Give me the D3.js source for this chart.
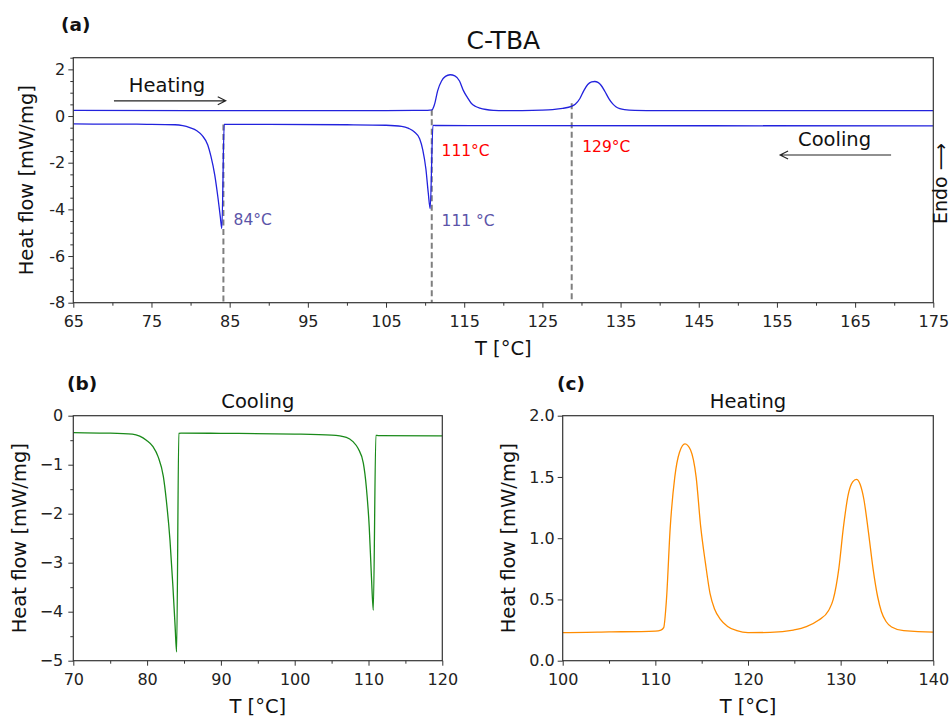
<!DOCTYPE html>
<html>
<head>
<meta charset="utf-8">
<script src="https://cdn.jsdelivr.net/npm/d3@7"></script>
<style>
body { margin: 0; background: #fff; }
text { font-family: "DejaVu Sans", sans-serif; }
.axis path { display: none; }
.axis line { stroke: #333; stroke-width: 1; }
.axis text { fill: #222; font-size: 16px; font-family: "DejaVu Sans", sans-serif; }
</style>
</head>
<body>
<script>
//heating run (T in °C, heat flow in mW/mg)
var heatT = [65, 80, 100, 105, 110, 110.6, 110.9, 111.2, 111.6, 112.1, 112.6, 113.2, 113.8, 114.4, 114.9, 115.4, 115.9, 116.4, 117.0, 117.8, 118.8, 120, 122.4, 124.9, 126.3, 127.6, 128.7, 129.2, 129.8, 130.3, 130.8, 131.3, 131.7, 132.1, 132.5, 133.0, 133.5, 134.0, 134.4, 134.9, 135.5, 136.8, 140, 150, 175];
var heatQ = [0.24, 0.235, 0.23, 0.235, 0.242, 0.25, 0.27, 0.5, 1.08, 1.5, 1.7, 1.77, 1.72, 1.5, 1.09, 0.8, 0.55, 0.42, 0.34, 0.28, 0.245, 0.229, 0.231, 0.25, 0.278, 0.33, 0.41, 0.5, 0.75, 1.09, 1.35, 1.46, 1.48, 1.44, 1.32, 1.05, 0.75, 0.52, 0.4, 0.32, 0.275, 0.245, 0.234, 0.232, 0.232];

//cooling run (b) and the left/right ends of panel (a)
var coolT = [65, 70, 75, 78, 79, 79.9, 80.8, 81.5, 82.2, 82.6, 83.1, 83.5, 83.8, 84.0, 84.3, 84.6, 90, 100, 105, 107, 107.9, 108.6, 109.3, 109.7, 110.1, 110.4, 110.65, 111.0, 111.3, 120, 175];
var coolQ = [-0.34, -0.347, -0.355, -0.374, -0.415, -0.5, -0.63, -0.84, -1.24, -1.72, -2.54, -3.49, -4.31, -4.82, -0.36, -0.355, -0.36, -0.374, -0.395, -0.44, -0.53, -0.67, -0.97, -1.45, -2.27, -3.29, -3.97, -0.4, -0.405, -0.41, -0.42];

//transition temperatures marked with dashed lines, and where each dash starts
var markT = [84.2, 110.85, 128.75];
var markTop = [-0.36, 0.27, 0.55];

//tick values
var aXTicks = [65, 75, 85, 95, 105, 115, 125, 135, 145, 155, 165, 175];
var aXMinor = [70, 80, 90, 100, 110, 120, 130, 140, 150, 160, 170];
var aYTicks = [-8, -6, -4, -2, 0, 2];
var bXTicks = [70, 80, 90, 100, 110, 120];
var bXMinor = [75, 85, 95, 105, 115];
var bYTicks = [-5, -4, -3, -2, -1, 0];
var cXTicks = [100, 110, 120, 130, 140];
var cXMinor = [105, 115, 125, 135];
var cYTicks = [0, 0.5, 1.0, 1.5, 2.0];

window.onload = function(){
    var w = 952, h = 718;
    var svg = d3.select("body").append("svg")
        .attr("width", w)
        .attr("height", h);

    var heat = heatT.map(function(t, i){ return [t, heatQ[i]]; });
    var cool = coolT.map(function(t, i){ return [t, coolQ[i]]; });

    //minor ticks every 0.5 on the y axes of (a) and (b)
    function halfSteps(lo, hi, major){
        var out = [];
        for (var v = lo; v <= hi + 1e-9; v += 0.5) {
            if (major.indexOf(v) < 0) out.push(v);
        }
        return out;
    }

    //one panel: box in pixels, domains, ticks
    function panel(id, box, xDom, yDom, o){
        var x = d3.scaleLinear().domain(xDom).range([box.x0, box.x1]);
        var y = d3.scaleLinear().domain(yDom).range([box.y1, box.y0]);
        var g = svg.append("g").attr("class", "panel-" + id);

        g.append("clipPath").attr("id", "clip-" + id)
            .append("rect")
            .attr("x", box.x0).attr("y", box.y0)
            .attr("width", box.x1 - box.x0).attr("height", box.y1 - box.y0);

        //major + minor x ticks
        g.append("g").attr("class", "axis")
            .attr("transform", "translate(0," + box.y1 + ")")
            .call(d3.axisBottom(x).tickValues(o.xTicks).tickSize(5).tickPadding(8).tickFormat(d3.format("d")));
        g.append("g").attr("class", "axis")
            .attr("transform", "translate(0," + box.y1 + ")")
            .call(d3.axisBottom(x).tickValues(o.xMinor).tickSize(3).tickFormat(""));

        g.append("g").attr("class", "axis")
            .attr("transform", "translate(" + box.x0 + ",0)")
            .call(d3.axisLeft(y).tickValues(o.yTicks).tickSize(5).tickPadding(o.yPad).tickFormat(o.yFmt));
        if (o.yMinor) {
            g.append("g").attr("class", "axis")
                .attr("transform", "translate(" + box.x0 + ",0)")
                .call(d3.axisLeft(y).tickValues(o.yMinor).tickSize(3).tickFormat(""));
        }

        //axis labels
        g.append("text")
            .attr("x", (box.x0 + box.x1) / 2).attr("y", box.y1 + 52)
            .attr("text-anchor", "middle")
            .style("font-size", "19.5px").style("fill", "#111")
            .text("T [°C]");
        g.append("text")
            .attr("transform", "translate(" + o.yLabX + "," + (box.y0 + box.y1) / 2 + ") rotate(-90)")
            .attr("text-anchor", "middle")
            .style("font-size", "19.5px").style("fill", "#111")
            .text("Heat flow [mW/mg]");

        return {x: x, y: y, g: g, box: box};
    }

    function frame(p){
        p.g.append("rect")
            .attr("x", p.box.x0).attr("y", p.box.y0)
            .attr("width", p.box.x1 - p.box.x0).attr("height", p.box.y1 - p.box.y0)
            .style("fill", "none").style("stroke", "#333").style("stroke-width", 1.2);
    }

    function curve(p, data, color, id){
        var line = d3.line()
            .x(function(d){ return p.x(d[0]); })
            .y(function(d){ return p.y(d[1]); })
            .curve(d3.curveMonotoneX);
        p.g.append("path")
            .datum(data)
            .attr("clip-path", "url(#clip-" + id + ")")
            .attr("d", line)
            .style("fill", "none")
            .style("stroke", color)
            .style("stroke-width", 1.3);
    }

    function arrow(p, t0, t1, v){
        var x0 = p.x(t0), x1 = p.x(t1), yy = p.y(v);
        var dir = x1 > x0 ? -1 : 1;
        p.g.append("path")
            .attr("d", "M" + x0 + "," + yy + "L" + x1 + "," + yy +
                "M" + (x1 + dir * 8) + "," + (yy - 4) + "L" + x1 + "," + yy + "L" + (x1 + dir * 8) + "," + (yy + 4))
            .style("fill", "none").style("stroke", "#222").style("stroke-width", 1.1);
    }

    function label(p, t, v, txt, color, size){
        p.g.append("text")
            .attr("x", p.x(t)).attr("y", p.y(v))
            .style("font-size", size + "px").style("fill", color)
            .text(txt);
    }

    //Panel (a): both runs
    var a = panel("a", {x0: 73.3, x1: 933.3, y0: 57.7, y1: 302.7}, [65, 175], [-8, 2.5], {
        xTicks: aXTicks, xMinor: aXMinor,
        yTicks: aYTicks, yMinor: halfSteps(-8, 2.5, aYTicks),
        yFmt: function(d){ return String(d); }, yPad: 3, yLabX: 33
    });

    //dashed markers
    a.g.selectAll(".mark")
        .data(markT)
        .enter()
        .append("line")
        .attr("class", "mark")
        .attr("x1", function(d){ return a.x(d); })
        .attr("x2", function(d){ return a.x(d); })
        .attr("y1", function(d, i){ return a.y(markTop[i]); })
        .attr("y2", a.y(-8))
        .style("stroke", "#7f7f7f")
        .style("stroke-width", 2)
        .style("stroke-dasharray", "6,3.5");

    curve(a, heat, "#2222dd", "a");
    curve(a, cool, "#2222dd", "a");
    frame(a);

    label(a, 72.1, 1.04, "Heating", "#111", 19.5);
    arrow(a, 70.2, 84.5, 0.65);
    label(a, 157.7, -1.28, "Cooling", "#111", 19.5);
    arrow(a, 169.6, 155.4, -1.67);
    label(a, 85.5, -4.68, "84°C", "#5b54a8", 15.5);
    label(a, 112.1, -4.72, "111 °C", "#5b54a8", 15.5);
    label(a, 112.1, -1.71, "111°C", "#ff0000", 15.5);
    label(a, 130.1, -1.53, "129°C", "#ff0000", 15.5);

    svg.append("text")
        .attr("x", (73.3 + 933.3) / 2).attr("y", 49)
        .attr("text-anchor", "middle")
        .style("font-size", "25px").style("fill", "#111")
        .text("C-TBA");
    svg.append("text")
        .attr("x", 61).attr("y", 31)
        .style("font-size", "18.5px").style("font-weight", "bold").style("fill", "#111")
        .text("(a)");
    svg.append("text")
        .attr("transform", "translate(947,224) rotate(-90)")
        .style("font-size", "19px").style("fill", "#111")
        .text("Endo ⟶");

    //Panel (b): cooling zoom
    var b = panel("b", {x0: 73.3, x1: 442.3, y0: 415.7, y1: 660.7}, [70, 120], [-5, 0], {
        xTicks: bXTicks, xMinor: bXMinor,
        yTicks: bYTicks, yMinor: halfSteps(-5, 0, bYTicks),
        yFmt: d3.format("d"), yPad: 5, yLabX: 26
    });
    curve(b, cool, "#1a8a1a", "b");
    frame(b);
    svg.append("text")
        .attr("x", (73.3 + 442.3) / 2).attr("y", 408)
        .attr("text-anchor", "middle")
        .style("font-size", "19.5px").style("fill", "#111")
        .text("Cooling");
    svg.append("text")
        .attr("x", 67).attr("y", 390)
        .style("font-size", "18.5px").style("font-weight", "bold").style("fill", "#111")
        .text("(b)");

    //Panel (c): heating zoom
    var c = panel("c", {x0: 562.7, x1: 933.3, y0: 415.7, y1: 660.7}, [100, 140], [0, 2], {
        xTicks: cXTicks, xMinor: cXMinor,
        yTicks: cYTicks, yMinor: null,
        yFmt: d3.format(".1f"), yPad: 3, yLabX: 514.5
    });
    curve(c, heat, "#ff8c00", "c");
    frame(c);
    svg.append("text")
        .attr("x", (562.7 + 933.3) / 2).attr("y", 408)
        .attr("text-anchor", "middle")
        .style("font-size", "19.5px").style("fill", "#111")
        .text("Heating");
    svg.append("text")
        .attr("x", 557).attr("y", 390)
        .style("font-size", "18.5px").style("font-weight", "bold").style("fill", "#111")
        .text("(c)");
};
</script>
</body>
</html>
